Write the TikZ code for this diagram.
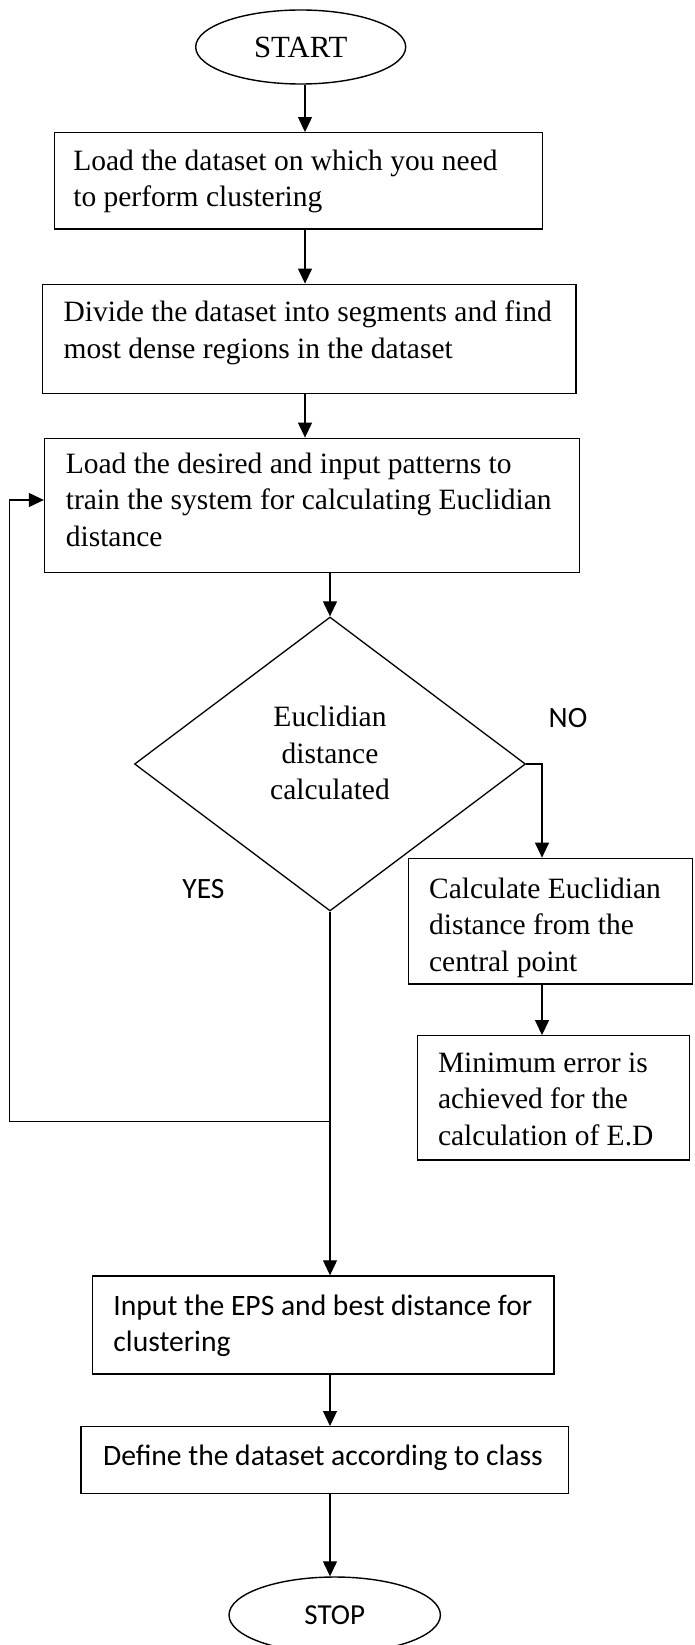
\documentclass[tikz,border=0pt]{standalone}
\usepackage{fontspec}
\setmainfont{Liberation Serif}
\newfontfamily\calfont{Carlito}
\usetikzlibrary{shapes.geometric,arrows.meta}
\newcommand\bt[5]{\begin{minipage}[c][#2pt][t]{#1pt}\raggedright\leftskip=#3pt\relax\rule{0pt}{#4pt}#5\end{minipage}}
\tikzset{
  box/.style={draw, rectangle, line width=1.4pt, inner sep=0pt},
  serif/.style={font=\fontsize{29.5}{36.5}\selectfont},
  sans/.style={font=\calfont\fontsize{29.6}{36.7}\selectfont},
  arr/.style={line width=1.2pt, -{Triangle[length=15pt,width=14pt]}},
  term/.style={draw, ellipse, line width=1.4pt, inner sep=0pt},
  lbl/.style={font=\calfont\fontsize{29.5}{30}\selectfont, inner sep=0pt},
}
\begin{document}
\begin{tikzpicture}[x=1pt,y=-1pt]
\useasboundingbox (0,0) rectangle (694,1645);
\clip (0,0) rectangle (694,1645);
% terminals
\node[term, minimum width=210pt, minimum height=74pt, font=\fontsize{30.8}{36}\selectfont] (start) at (300.7,47) {START};
\node[term, minimum width=211.4pt, minimum height=76pt, font=\calfont\fontsize{29}{36}\selectfont] (stop) at (334.7,1615) {STOP};
% process boxes
\node[box, serif] (b1) at (298.5,180.9) {\bt{488.4}{96.3}{19}{37.3}{Load the dataset on which you need\\to perform clustering}};
\node[box, serif] (b2) at (309.2,338.8) {\bt{533.7}{109}{21.3}{37.4}{Divide the dataset into segments and find\\most dense regions in the dataset}};
\node[box, serif] (b3) at (311.9,505.3) {\bt{534.7}{134}{21.3}{34.7}{Load the desired and input patterns to\\train the system for calculating Euclidian\\distance}};
\node[box, serif] (b4) at (550.5,921.2) {\bt{284}{125.7}{20.6}{39.7}{Calculate Euclidian\\distance from the\\central point}};
\node[box, serif] (b5) at (553.4,1097.9) {\bt{272.2}{124.3}{20.7}{36.3}{Minimum error is\\achieved for the\\calculation of E.D}};
\node[box, sans] (b6) at (323.2,1325) {\bt{461.3}{98}{20.9}{39}{Input the EPS and best distance for\\clustering}};
\node[box, sans] (b7) at (324.8,1460) {\bt{487.5}{66.6}{22}{38.3}{Define the dataset according to class}};
% decision
\node[draw, diamond, line width=1.3pt, inner sep=0pt, minimum width=391pt, minimum height=294pt, serif] (dec) at (330,764)
  {\begin{minipage}[c][130pt][t]{150pt}\centering\rule{0pt}{27.7pt}Euclidian\\distance\\calculated\end{minipage}};
% labels
\node[lbl] (no) at (568,718) {NO};
\node[lbl] (yes) at (203.5,889.5) {YES};
% helper coordinates
\coordinate (xa) at (305,0);
\coordinate (xn) at (542,0);
\coordinate (j) at (330,1121.7);
\coordinate (fl) at (9.8,1121.7);
\coordinate (fu) at (9.8,500);
% connectors
\draw[arr] (start.south -| xa) -- (b1.north -| xa);
\draw[arr] (b1.south -| xa) -- (b2.north -| xa);
\draw[arr] (b2.south -| xa) -- (b3.north -| xa);
\draw[arr] (b3.south -| dec.north) -- (dec.north);
\draw[arr] (dec.east) -- (dec.east -| xn) -- (b4.north -| xn);
\draw[arr] (b4.south -| xn) -- (b5.north -| xn);
\draw[arr] (dec.south) -- (b6.north -| dec.south);
\draw[arr] (j) -- (fl) -- (fu) -- (fu -| b3.west);
\draw[arr] (b6.south -| dec.south) -- (b7.north -| dec.south);
\draw[arr] (b7.south -| dec.south) -- (stop.north -| dec.south);
\end{tikzpicture}
\end{document}
